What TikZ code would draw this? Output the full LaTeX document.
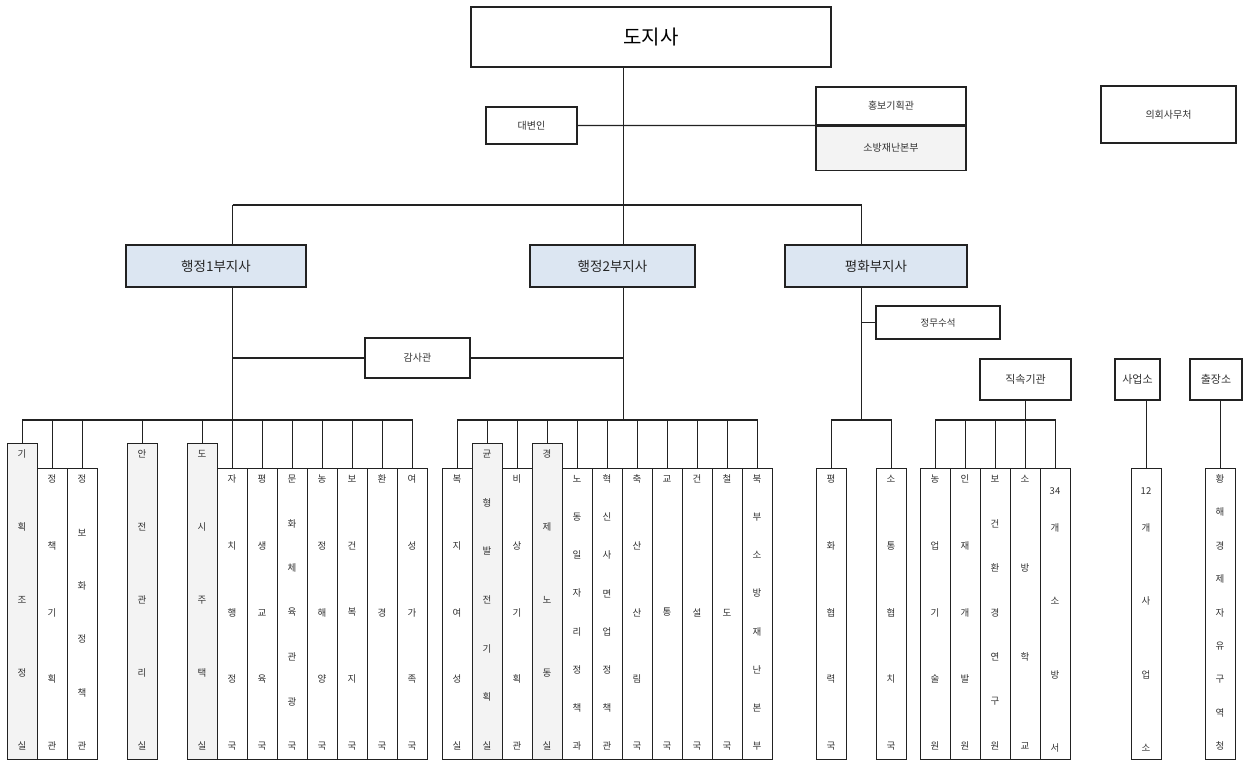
\documentclass[tikz,border=0pt]{standalone}
\usepackage{fontspec}
\setmainfont{Noto Sans CJK KR}
\usetikzlibrary{positioning, calc}
\definecolor{oline}{HTML}{222222}
\definecolor{otext}{HTML}{333333}
\definecolor{ovice}{HTML}{DCE6F2}
\definecolor{ogray}{HTML}{F3F3F3}

% one vertical unit column: #1 name, #2 left x, #3 top y, #4 extra style, #5 letters
\newcommand{\orgcol}[5]{%
  \node[colbox, #4, minimum height={759-#3}, anchor=north west] (#1) at (#2,#3) {};
  \foreach \ch [count=\n] in {#5} {\xdef\orgn{\n}}
  \foreach \ch [count=\i] in {#5}
    \node[coltext] at ({#2+15}, {#3+11+(\i-1)*(735-#3)/(\orgn-1)}) {\ch};
}
% a column headed by a number: #1 name, #2 left x, #3 number, #4 letters
\newcommand{\numcol}[4]{%
  \node[colbox, minimum height=291, anchor=north west] (#1) at (#2,468) {};
  \node[coltext] at ({#2+15}, 491) {#3};
  \foreach \ch [count=\i] in {#4}
    \node[coltext] at ({#2+15}, {528+(\i-1)*73.3}) {\ch};
}

\begin{document}
\begin{tikzpicture}[x=1pt, y=-1pt,
  conn/.style    = {draw=oline, line width=1.1pt},
  box/.style     = {draw=oline, line width=1.1pt, fill=white, text=otext,
                    font=\fontsize{10}{12}\selectfont, inner sep=0pt},
  topbox/.style  = {box, text=black, font=\fontsize{20}{24}\selectfont},
  vicebox/.style = {box, fill=ovice, text=black!85,
                    font=\fontsize{13.5}{16}\selectfont},
  groupbox/.style= {box, font=\fontsize{11}{13}\selectfont},
  colbox/.style  = {draw=oline, line width=1.1pt, fill=white,
                    minimum width=30pt, inner sep=0pt},
  tallcol/.style = {fill=ogray},
  coltext/.style = {text=otext, inner sep=0pt, font=\fontsize{9.5}{11}\selectfont},
]
\useasboundingbox (0,0) rectangle (1250,762);

% ================================================================ top ===
\node[topbox, minimum width=360, minimum height=60] (gov) at (651,37) {도지사};
\node[box, minimum width=91, minimum height=37] (spokes) at (531.5,125.5) {대변인};
\node[box, minimum width=150, minimum height=38] (pr) at (891,106) {홍보기획관};
\node[box, fill=ogray, minimum width=150, minimum height=44,
      below=0pt of pr] (fire) {소방재난본부};
\node[box, minimum width=135, minimum height=57] (council) at (1168.5,114.5) {의회사무처};

% ======================================================= vice governors ===
\node[vicebox, minimum width=180, minimum height=42] (vice1) at (216,266) {행정1부지사};
\node[vicebox, minimum width=165, minimum height=42] (vice2) at (612.5,266) {행정2부지사};
\node[vicebox, minimum width=182, minimum height=42] (vice3) at (876,266) {평화부지사};
\node[box, minimum width=105, minimum height=40] (gamsa) at (417.5,358) {감사관};
\node[box, font=\fontsize{9.5}{11}\selectfont, minimum width=124, minimum height=33]
     (jeongmu) at (938,322.5) {정무수석};
\node[groupbox, minimum width=91, minimum height=41] (jiksok) at (1025.5,379.5) {직속기관};
\node[groupbox, minimum width=45, minimum height=41] (saup) at (1137.5,379.5) {사업소};
\node[groupbox, minimum width=52, minimum height=41] (chuljang) at (1216,379.5) {출장소};

% ============================================= columns under vice 1 ===
\orgcol{gijo}{7}{443}{tallcol}{기,획,조,정,실}
\orgcol{jeongchaek}{37}{468}{}{정,책,기,획,관}
\orgcol{jeongbo}{67}{468}{}{정,보,화,정,책,관}
\orgcol{anjeon}{127}{443}{tallcol}{안,전,관,리,실}
\orgcol{dosi}{187}{443}{tallcol}{도,시,주,택,실}
\orgcol{jachi}{217}{468}{}{자,치,행,정,국}
\orgcol{pyeongsaeng}{247}{468}{}{평,생,교,육,국}
\orgcol{munhwa}{277}{468}{}{문,화,체,육,관,광,국}
\orgcol{nongjeong}{307}{468}{}{농,정,해,양,국}
\orgcol{bogeon}{337}{468}{}{보,건,복,지,국}
\orgcol{hwangyeong}{367}{468}{}{환,경,국}
\orgcol{yeoseong}{397}{468}{}{여,성,가,족,국}

% ============================================= columns under vice 2 ===
\orgcol{bokji}{442}{468}{}{복,지,여,성,실}
\orgcol{gyunhyeong}{472}{443}{tallcol}{균,형,발,전,기,획,실}
\orgcol{bisang}{502}{468}{}{비,상,기,획,관}
\orgcol{gyeongje}{532}{443}{tallcol}{경,제,노,동,실}
\orgcol{nodong}{562}{468}{}{노,동,일,자,리,정,책,과}
\orgcol{hyeoksin}{592}{468}{}{혁,신,사,면,업,정,책,관}
\orgcol{chuksan}{622}{468}{}{축,산,산,림,국}
\orgcol{gyotong}{652}{468}{}{교,통,국}
\orgcol{geonseol}{682}{468}{}{건,설,국}
\orgcol{cheoldo}{712}{468}{}{철,도,국}
\orgcol{bukbu}{742}{468}{}{북,부,소,방,재,난,본,부}

% ============================================= columns under vice 3 ===
\orgcol{pyeonghwa}{816}{468}{}{평,화,협,력,국}
\orgcol{sotong}{876}{468}{}{소,통,협,치,국}
\orgcol{nongup}{920}{468}{}{농,업,기,술,원}
\orgcol{injae}{950}{468}{}{인,재,개,발,원}
\orgcol{bogeonhw}{980}{468}{}{보,건,환,경,연,구,원}
\orgcol{sobanghak}{1010}{468}{}{소,방,학,교}
\numcol{sobangseo}{1040}{34}{개,소,방,서}
\numcol{saupcol}{1131}{12}{개,사,업,소}
\orgcol{hwanghae}{1205}{468}{}{황,해,경,제,자,유,구,역,청}

% ========================================================= connectors ===
\coordinate (top bus) at (0,205);
\coordinate (col bus) at (0,420);
\coordinate (p3) at ($(pyeonghwa.north)!0.5!(sotong.north)$);

% spine of the governor
\draw[conn] (gov.south -| hyeoksin.north east) -- (vice2.north -| hyeoksin.north east);
\draw[conn] (spokes.east) -- (pr.south west);
\draw[conn] (top bus -| jachi.north) -- (top bus -| p3);
\draw[conn] (top bus -| jachi.north) -- (vice1.north -| jachi.north);
\draw[conn] (top bus -| p3) -- (vice3.north -| p3);

% vice 1 and its bus
\draw[conn] (vice1.south -| jachi.north) -- (jachi.north);
\draw[conn] (gamsa.west -| jachi.north) -- (gamsa.west);
\draw[conn] (gijo.north) -- (gijo.north |- col bus) -| (yeoseong.north);
\foreach \c in {jeongchaek,jeongbo,anjeon,dosi,pyeongsaeng,munhwa,nongjeong,bogeon,hwangyeong}
  \draw[conn] (\c.north) -- (\c.north |- col bus);

% vice 2 and its bus
\draw[conn] (vice2.south -| hyeoksin.north east) -- (col bus -| hyeoksin.north east);
\draw[conn] (gamsa.east) -- (gamsa.east -| hyeoksin.north east);
\draw[conn] (bokji.north) -- (bokji.north |- col bus) -| (bukbu.north);
\foreach \c in {gyunhyeong,bisang,gyeongje,nodong,hyeoksin,chuksan,gyotong,geonseol,cheoldo}
  \draw[conn] (\c.north) -- (\c.north |- col bus);

% vice 3, its offices and the outer bodies
\draw[conn] (vice3.south -| p3) -- (col bus -| p3);
\draw[conn] (jeongmu.west -| p3) -- (jeongmu.west);
\draw[conn] (pyeonghwa.north) -- (pyeonghwa.north |- col bus) -| (sotong.north);
\draw[conn] (jiksok.south -| sobanghak.north) -- (sobanghak.north);
\draw[conn] (nongup.north) -- (nongup.north |- col bus) -| (sobangseo.north);
\foreach \c in {injae,bogeonhw}
  \draw[conn] (\c.north) -- (\c.north |- col bus);
\draw[conn] (saup.south -| saupcol.north) -- (saupcol.north);
\draw[conn] (chuljang.south -| hwanghae.north) -- (hwanghae.north);

\end{tikzpicture}
\end{document}
